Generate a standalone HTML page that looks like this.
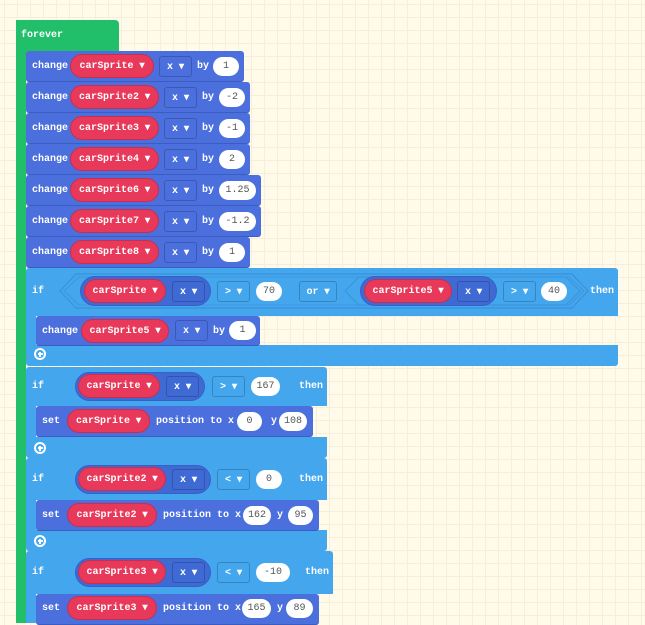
<!DOCTYPE html>
<html><head><meta charset="utf-8"><style>
body{margin:0;width:645px;height:623px;overflow:hidden;position:relative;background-color:#fffaea;
background-image:linear-gradient(#f5eed8 1px,transparent 1px),linear-gradient(90deg,#f5eed8 1px,transparent 1px);background-size:13px 13px;background-position:4px 4px;}
.r{position:absolute;}
.e{position:absolute;display:flex;align-items:center;justify-content:center;color:#fff;font:bold 10px "Liberation Mono",monospace;white-space:nowrap;box-sizing:border-box}
.p{background:#e8395a;border:1px solid #c63050;border-radius:13px;height:24px}
.d{border:1px solid rgba(0,0,0,.2);border-radius:3px;height:21px}
.n{background:#fff;color:#555;border-radius:10px;height:19px;font-weight:normal}
.cb{position:absolute;background:#4b6fdc;border-radius:3px;border-bottom:1px solid #3b5cc0;box-sizing:border-box}
.lb{position:absolute;background:#44a7ee}
.k{position:absolute;background:#3f6ad4;border:1px solid #3760c8;border-radius:15px;box-sizing:border-box}
.pl{position:absolute;width:12px;height:12px;border:2px solid #fff;border-radius:50%;box-sizing:border-box}
.pl:before{content:"";position:absolute;left:1.5px;top:3px;width:5px;height:2px;background:#fff}
.pl:after{content:"";position:absolute;left:3px;top:1.5px;width:2px;height:5px;background:#fff}
</style></head><body>
<!-- forever -->
<div class="r" style="left:16px;top:20px;width:103px;height:35px;background:#22bf6b;border-radius:4px 4px 0 0"></div>
<div class="r" style="left:16px;top:20px;width:10px;height:603px;background:#22bf6b"></div>
<div class="e" style="left:21px;top:26px;height:18px">forever</div>

<!-- change rows -->
<div class="cb" style="left:26px;top:51px;width:218px;height:31px"></div>
<div class="e" style="left:32px;top:51px;height:31px">change</div>
<div class="e p" style="left:70px;top:54px;width:84px">carSprite ▾</div>
<div class="e d" style="left:159px;top:56px;width:33px">x ▾</div>
<div class="e" style="left:197px;top:51px;height:31px">by</div>
<div class="e n" style="left:213px;top:57px;width:26px">1</div>

<div class="cb" style="left:26px;top:82px;width:224px;height:31px"></div>
<div class="e" style="left:32px;top:82px;height:31px">change</div>
<div class="e p" style="left:70px;top:85px;width:89px">carSprite2 ▾</div>
<div class="e d" style="left:164px;top:87px;width:33px">x ▾</div>
<div class="e" style="left:202px;top:82px;height:31px">by</div>
<div class="e n" style="left:219px;top:88px;width:26px">-2</div>

<div class="cb" style="left:26px;top:113px;width:224px;height:31px"></div>
<div class="e" style="left:32px;top:113px;height:31px">change</div>
<div class="e p" style="left:70px;top:116px;width:89px">carSprite3 ▾</div>
<div class="e d" style="left:164px;top:118px;width:33px">x ▾</div>
<div class="e" style="left:202px;top:113px;height:31px">by</div>
<div class="e n" style="left:219px;top:119px;width:26px">-1</div>

<div class="cb" style="left:26px;top:144px;width:224px;height:31px"></div>
<div class="e" style="left:32px;top:144px;height:31px">change</div>
<div class="e p" style="left:70px;top:147px;width:89px">carSprite4 ▾</div>
<div class="e d" style="left:164px;top:149px;width:33px">x ▾</div>
<div class="e" style="left:202px;top:144px;height:31px">by</div>
<div class="e n" style="left:219px;top:150px;width:26px">2</div>

<div class="cb" style="left:26px;top:175px;width:235px;height:31px"></div>
<div class="e" style="left:32px;top:175px;height:31px">change</div>
<div class="e p" style="left:70px;top:178px;width:89px">carSprite6 ▾</div>
<div class="e d" style="left:164px;top:180px;width:33px">x ▾</div>
<div class="e" style="left:202px;top:175px;height:31px">by</div>
<div class="e n" style="left:219px;top:181px;width:37px">1.25</div>

<div class="cb" style="left:26px;top:206px;width:235px;height:31px"></div>
<div class="e" style="left:32px;top:206px;height:31px">change</div>
<div class="e p" style="left:70px;top:209px;width:89px">carSprite7 ▾</div>
<div class="e d" style="left:164px;top:211px;width:33px">x ▾</div>
<div class="e" style="left:202px;top:206px;height:31px">by</div>
<div class="e n" style="left:219px;top:212px;width:37px">-1.2</div>

<div class="cb" style="left:26px;top:237px;width:224px;height:31px"></div>
<div class="e" style="left:32px;top:237px;height:31px">change</div>
<div class="e p" style="left:70px;top:240px;width:89px">carSprite8 ▾</div>
<div class="e d" style="left:164px;top:242px;width:33px">x ▾</div>
<div class="e" style="left:202px;top:237px;height:31px">by</div>
<div class="e n" style="left:219px;top:243px;width:26px">1</div>

<!-- if 1 -->
<div class="lb" style="left:26px;top:268px;width:592px;height:48px;border-radius:3px 3px 0 0"></div>
<div class="lb" style="left:26px;top:316px;width:10px;height:30px"></div>
<div class="lb" style="left:26px;top:345px;width:592px;height:21px;border-radius:0 0 3px 3px"></div>
<svg class="r" style="left:0;top:0" width="645" height="623">
<polygon points="60,291 76,274 572,274 588,291 572,308 76,308" fill="none" stroke="#3a92d8" stroke-width="1.2"/>
<polygon points="64,291 79,277 569,277 584,291 569,305 79,305" fill="none" stroke="#3a92d8" stroke-width="0.8"/>
<polygon points="345,291 359,277 566,277 580,291 566,305 359,305" fill="none" stroke="#3a92d8" stroke-width="1"/>
<polygon points="48,386 63,370 277,370 292,386 277,402 63,402" fill="none" stroke="#3a92d8" stroke-width="1"/>
<polygon points="48,479 63,463 277,463 292,479 277,495 63,495" fill="none" stroke="#3a92d8" stroke-width="1"/>
<polygon points="48,572 63,556 284,556 299,572 284,588 63,588" fill="none" stroke="#3a92d8" stroke-width="1"/>
</svg>
<div class="e" style="left:32px;top:282px;height:18px">if</div>
<div class="k" style="left:80px;top:276px;width:131px;height:30px"></div>
<div class="e p" style="left:84px;top:279px;width:82px">carSprite ▾</div>
<div class="e d" style="left:172px;top:281px;width:33px">x ▾</div>
<div class="e d" style="left:217px;top:281px;width:33px">&gt; ▾</div>
<div class="e n" style="left:256px;top:282px;width:26px">70</div>
<div class="e d" style="left:299px;top:281px;width:38px">or ▾</div>
<div class="k" style="left:360px;top:276px;width:137px;height:30px"></div>
<div class="e p" style="left:364px;top:279px;width:88px">carSprite5 ▾</div>
<div class="e d" style="left:457px;top:281px;width:33px">x ▾</div>
<div class="e d" style="left:503px;top:281px;width:33px">&gt; ▾</div>
<div class="e n" style="left:541px;top:282px;width:26px">40</div>
<div class="e" style="left:590px;top:282px;height:18px">then</div>
<div class="cb" style="left:36px;top:316px;width:224px;height:30px"></div>
<div class="e" style="left:42px;top:316px;height:30px">change</div>
<div class="e p" style="left:81px;top:319px;width:88px">carSprite5 ▾</div>
<div class="e d" style="left:175px;top:320px;width:33px">x ▾</div>
<div class="e" style="left:213px;top:316px;height:30px">by</div>
<div class="e n" style="left:229px;top:321px;width:27px">1</div>
<div class="pl" style="left:34px;top:348px"></div>

<!-- if 2 -->
<div class="lb" style="left:26px;top:367px;width:301px;height:39px;border-radius:3px 3px 0 0"></div>
<div class="lb" style="left:26px;top:406px;width:10px;height:32px"></div>
<div class="lb" style="left:26px;top:437px;width:301px;height:21px;border-radius:0 0 3px 3px"></div>
<div class="e" style="left:32px;top:377px;height:18px">if</div>
<div class="k" style="left:75px;top:372px;width:130px;height:29px"></div>
<div class="e p" style="left:78px;top:374px;width:82px">carSprite ▾</div>
<div class="e d" style="left:166px;top:376px;width:33px">x ▾</div>
<div class="e d" style="left:212px;top:376px;width:33px">&gt; ▾</div>
<div class="e n" style="left:251px;top:377px;width:29px">167</div>
<div class="e" style="left:299px;top:377px;height:18px">then</div>
<div class="cb" style="left:36px;top:406px;width:277px;height:31px"></div>
<div class="e" style="left:42px;top:406px;height:31px">set</div>
<div class="e p" style="left:67px;top:409px;width:83px">carSprite ▾</div>
<div class="e" style="left:156px;top:406px;height:31px">position to x</div>
<div class="e n" style="left:237px;top:412px;width:25px">0</div>
<div class="e" style="left:271px;top:406px;height:31px">y</div>
<div class="e n" style="left:279px;top:412px;width:28px">108</div>
<div class="pl" style="left:34px;top:442px"></div>

<!-- if 3 -->
<div class="lb" style="left:26px;top:458px;width:301px;height:42px;border-radius:3px 3px 0 0"></div>
<div class="lb" style="left:26px;top:500px;width:10px;height:31px"></div>
<div class="lb" style="left:26px;top:530px;width:301px;height:21px;border-radius:0 0 3px 3px"></div>
<div class="e" style="left:32px;top:470px;height:18px">if</div>
<div class="k" style="left:75px;top:465px;width:136px;height:29px"></div>
<div class="e p" style="left:78px;top:467px;width:88px">carSprite2 ▾</div>
<div class="e d" style="left:172px;top:469px;width:33px">x ▾</div>
<div class="e d" style="left:217px;top:469px;width:33px">&lt; ▾</div>
<div class="e n" style="left:256px;top:470px;width:26px">0</div>
<div class="e" style="left:299px;top:470px;height:18px">then</div>
<div class="cb" style="left:36px;top:500px;width:283px;height:31px"></div>
<div class="e" style="left:42px;top:500px;height:31px">set</div>
<div class="e p" style="left:67px;top:503px;width:90px">carSprite2 ▾</div>
<div class="e" style="left:163px;top:500px;height:31px">position to x</div>
<div class="e n" style="left:243px;top:506px;width:28px">162</div>
<div class="e" style="left:277px;top:500px;height:31px">y</div>
<div class="e n" style="left:288px;top:506px;width:25px">95</div>
<div class="pl" style="left:34px;top:535px"></div>

<!-- if 4 -->
<div class="lb" style="left:26px;top:551px;width:307px;height:43px;border-radius:3px 3px 0 0"></div>
<div class="lb" style="left:26px;top:594px;width:10px;height:29px"></div>
<div class="e" style="left:32px;top:563px;height:18px">if</div>
<div class="k" style="left:75px;top:558px;width:136px;height:29px"></div>
<div class="e p" style="left:78px;top:560px;width:88px">carSprite3 ▾</div>
<div class="e d" style="left:172px;top:562px;width:33px">x ▾</div>
<div class="e d" style="left:217px;top:562px;width:33px">&lt; ▾</div>
<div class="e n" style="left:256px;top:563px;width:34px">-10</div>
<div class="e" style="left:305px;top:563px;height:18px">then</div>
<div class="cb" style="left:36px;top:594px;width:283px;height:31px"></div>
<div class="e" style="left:42px;top:594px;height:29px">set</div>
<div class="e p" style="left:67px;top:596px;width:90px">carSprite3 ▾</div>
<div class="e" style="left:163px;top:594px;height:29px">position to x</div>
<div class="e n" style="left:242px;top:599px;width:29px">165</div>
<div class="e" style="left:277px;top:594px;height:29px">y</div>
<div class="e n" style="left:286px;top:599px;width:27px">89</div>
</body></html>
